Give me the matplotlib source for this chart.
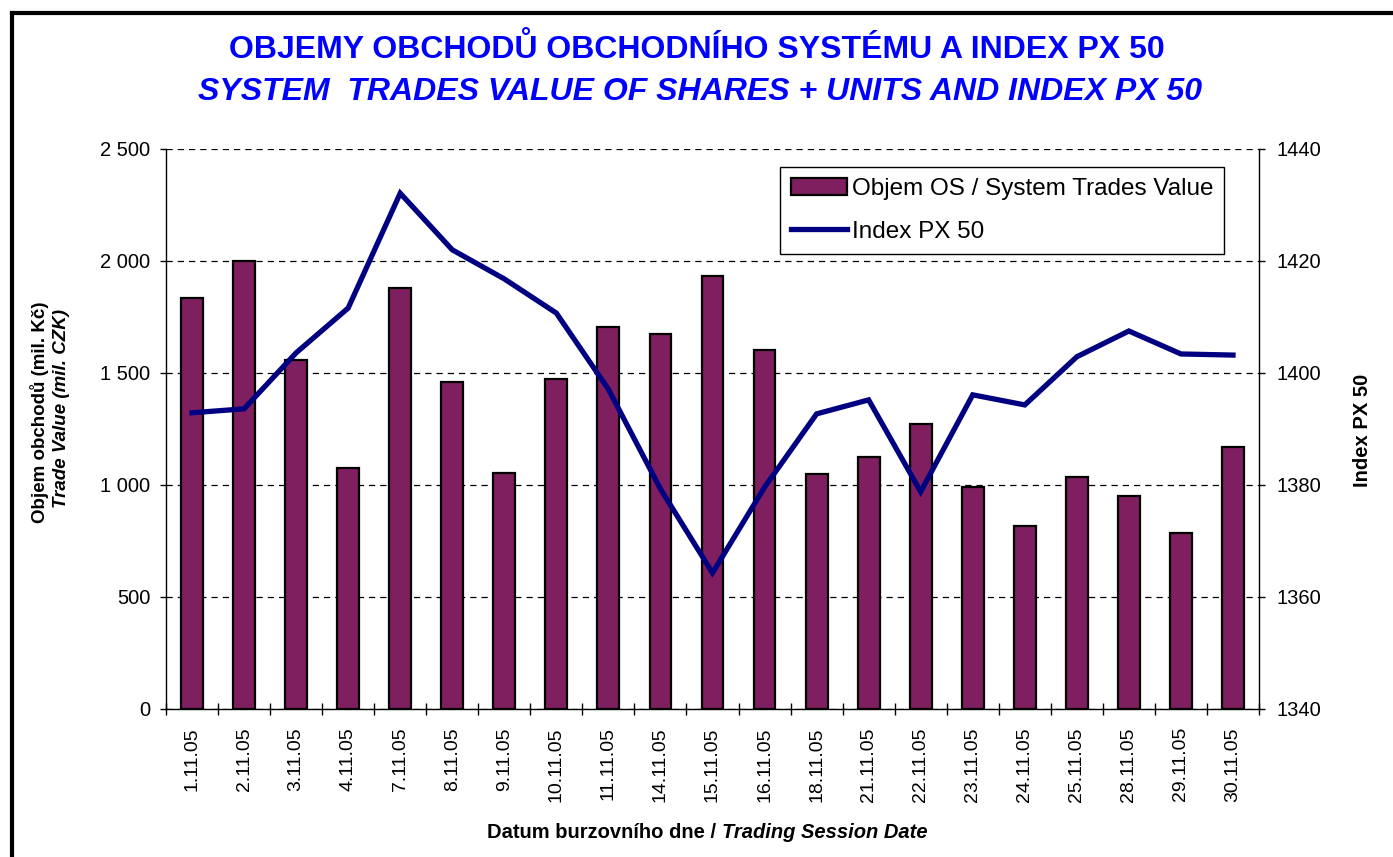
import matplotlib
matplotlib.use("Agg")
import matplotlib.pyplot as plt
from matplotlib.lines import Line2D
from matplotlib.ticker import FuncFormatter

# === DATA ===
dates = ["1.11.05", "2.11.05", "3.11.05", "4.11.05", "7.11.05", "8.11.05", "9.11.05",
         "10.11.05", "11.11.05", "14.11.05", "15.11.05", "16.11.05", "18.11.05",
         "21.11.05", "22.11.05", "23.11.05", "24.11.05", "25.11.05", "28.11.05",
         "29.11.05", "30.11.05"]
trades_value = [1835, 2000, 1560, 1078, 1878, 1458, 1054, 1473, 1707, 1676, 1931,
                1604, 1049, 1126, 1272, 990, 818, 1034, 949, 786, 1171]
px50 = [1392.9, 1393.6, 1403.6, 1411.6, 1432.1, 1422.0, 1416.8, 1410.7, 1397.1,
        1379.3, 1364.3, 1379.6, 1392.7, 1395.2, 1378.8, 1396.1, 1394.3, 1402.9,
        1407.5, 1403.4, 1403.2]
left_ticks = [0, 500, 1000, 1500, 2000, 2500]
right_ticks = [1340, 1360, 1380, 1400, 1420, 1440]

# === STYLE ===
plt.rcParams['font.family'] = ['Liberation Sans', 'DejaVu Sans']
BAR_COLOR = '#801F60'
LINE_COLOR = '#000080'
TITLE_COLOR = '#0000FF'

W, H = 1393, 857
fig = plt.figure(figsize=(W / 100, H / 100), dpi=100)
fig.patch.set_facecolor('white')

ax = fig.add_axes([166 / W, 1 - 709 / H, (1259 - 166) / W, (709 - 149) / H])
x = list(range(len(dates)))

bars = ax.bar(x, trades_value, width=0.42, color=BAR_COLOR, edgecolor='black',
              linewidth=1.6, zorder=3, label='Objem OS / System Trades Value')
ax.set_xlim(-0.5, len(dates) - 0.5)
ax.set_ylim(0, 2500)
ax.set_yticks(left_ticks)
ax.yaxis.set_major_formatter(FuncFormatter(lambda v, p: f"{v:,.0f}".replace(",", " ")))
ax.yaxis.grid(True, linestyle=(0, (5, 4)), color='black', linewidth=0.9)
ax.set_axisbelow(True)

ax.set_xticks(x)
ax.set_xticklabels(dates, rotation=90, fontsize=14, va='top', ha='center')
ax.set_xticks([i - 0.5 for i in range(len(dates) + 1)], minor=True)
ax.tick_params(axis='x', which='major', length=0, pad=13)
ax.tick_params(axis='x', which='minor', direction='inout', length=8.6, width=1)
ax.tick_params(axis='y', direction='out', length=4.3, width=1, labelsize=14.5, pad=7)

for s in ['top', 'right']:
    ax.spines[s].set_visible(False)
ax.spines['left'].set_linewidth(1)
ax.spines['bottom'].set_linewidth(1)

# === INDEX LINE ===
ax2 = ax.twinx()
line, = ax2.plot(x, px50, color=LINE_COLOR, lw=3.8, solid_joinstyle='miter',
                 label='Index PX 50', zorder=4)
ax2.set_ylim(1340, 1440)
ax2.set_yticks(right_ticks)
ax2.tick_params(axis='y', direction='out', length=4.3, width=1, labelsize=14.5, pad=8.6)
for s in ['top', 'left', 'bottom']:
    ax2.spines[s].set_visible(False)
ax2.spines['right'].set_linewidth(1)

leg = ax2.legend([bars, line], ['Objem OS / System Trades Value', 'Index PX 50'],
                 loc='upper right', bbox_to_anchor=(1224 / W, 1 - 167 / H),
                 bbox_transform=fig.transFigure, borderaxespad=0,
                 fontsize=17.5, labelspacing=0.85, handlelength=2.3,
                 handletextpad=0.2, borderpad=0.45, fancybox=False,
                 framealpha=1, edgecolor='black')
leg.get_frame().set_linewidth(1)

# === TITLES AND LABELS ===
fig.text(0.5, 1 - 49 / H, "OBJEMY OBCHODŮ OBCHODNÍHO SYSTÉMU A INDEX PX 50",
         ha='center', va='center', fontsize=23, fontweight='bold', color=TITLE_COLOR)
fig.text(700 / W, 1 - 92 / H, "SYSTEM  TRADES VALUE OF SHARES + UNITS AND INDEX PX 50",
         ha='center', va='center', fontsize=23, fontweight='bold', style='italic',
         color=TITLE_COLOR)

fig.text(40 / W, 1 - 412 / H, "Objem obchodů (mil. Kč)", rotation=90,
         ha='center', va='center', fontsize=13.5, fontweight='bold')
fig.text(61 / W, 1 - 408 / H, "Trade Value (mil. CZK)", rotation=90,
         ha='center', va='center', fontsize=13.5, fontweight='bold', style='italic')
fig.text(1362 / W, 1 - 430 / H, "Index PX 50", rotation=90,
         ha='center', va='center', fontsize=14.5, fontweight='bold')

fig.text(722 / W, 1 - 832 / H, "Datum burzovního dne / ", ha='right', va='center',
         fontsize=14.5, fontweight='bold')
fig.text(722 / W, 1 - 832 / H, "Trading Session Date", ha='left', va='center',
         fontsize=14.5, fontweight='bold', style='italic')

# figure border (left and top visible)
fig.add_artist(Line2D([12 / W, 12 / W], [0, 1 - 13 / H], transform=fig.transFigure,
                      color='black', lw=3, solid_capstyle='projecting'))
fig.add_artist(Line2D([12 / W, 1], [1 - 13 / H, 1 - 13 / H], transform=fig.transFigure,
                      color='black', lw=3, solid_capstyle='projecting'))

fig.savefig('out.png', dpi=100)
